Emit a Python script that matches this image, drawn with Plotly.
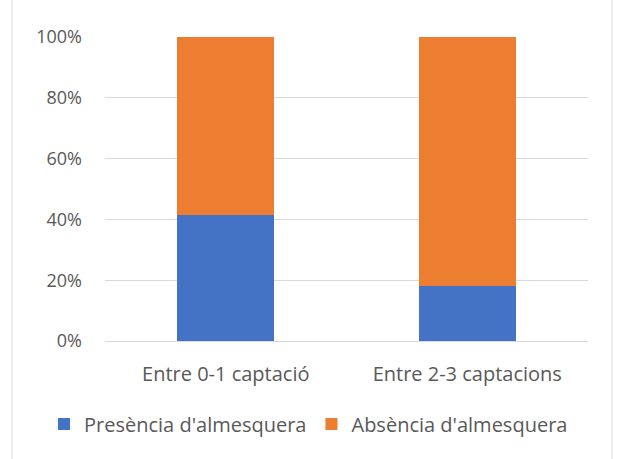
import plotly.graph_objects as go

categories = ["Entre 0-1 captació", "Entre 2-3 captacions"]
presencia = [41.6, 18.2]
absencia = [58.4, 81.8]
series_names = ["Presència d'almesquera", "Absència d'almesquera"]
tick_vals = [0, 20, 40, 60, 80, 100]
tick_text = ["0%", "20%", "40%", "60%", "80%", "100%"]

W, H = 617, 459
ml, mr, mt, mb = 105, 29, 37, 118
pw, ph = W - ml - mr, H - mt - mb

def px_x(p):
    return (p - ml) / pw

def px_y(p):
    return (H - mb - p) / ph

font = dict(family="Open Sans, sans-serif", size=20, color="#595959")
lfont = dict(family="Open Sans, sans-serif", size=20, color="#595959")
yfont = dict(family="Open Sans, sans-serif", size=18, color="#595959")

fig = go.Figure()
fig.add_trace(go.Bar(x=categories, y=presencia, name=series_names[0],
                     marker=dict(color="#4472C4", line=dict(width=0))))
fig.add_trace(go.Bar(x=categories, y=absencia, name=series_names[1],
                     marker=dict(color="#ED7D31", line=dict(width=0))))

fig.update_layout(
    width=W, height=H,
    margin=dict(l=ml, r=mr, t=mt, b=mb, autoexpand=False),
    barmode="stack",
    bargap=0.6,
    plot_bgcolor="white",
    paper_bgcolor="white",
    font=font,
    showlegend=True,
    legend=dict(orientation="h", x=px_x(44), xanchor="left", y=px_y(424), yanchor="middle",
                font=lfont, traceorder="normal", tracegroupgap=0,
                itemsizing="constant", bgcolor="rgba(0,0,0,0)"),
    xaxis=dict(showgrid=False, showline=True, linecolor="#d9d9d9", linewidth=1,
               ticks="", tickfont=font, ticklabelstandoff=15, fixedrange=True,
               automargin=False),
    yaxis=dict(range=[0, 100], tickvals=tick_vals, ticktext=tick_text,
               showgrid=True, gridcolor="#d9d9d9", gridwidth=1, zeroline=False,
               showline=False, ticks="", ticklabelstandoff=22, tickfont=yfont, fixedrange=True,
               automargin=False),
    hovermode=False,
)

fig.add_shape(type="rect", xref="paper", yref="paper",
              x0=px_x(12), x1=px_x(612), y0=px_y(470), y1=px_y(-5),
              line=dict(color="#d9d9d9", width=1), fillcolor="rgba(0,0,0,0)", layer="below")

fig.write_html("out.html")
